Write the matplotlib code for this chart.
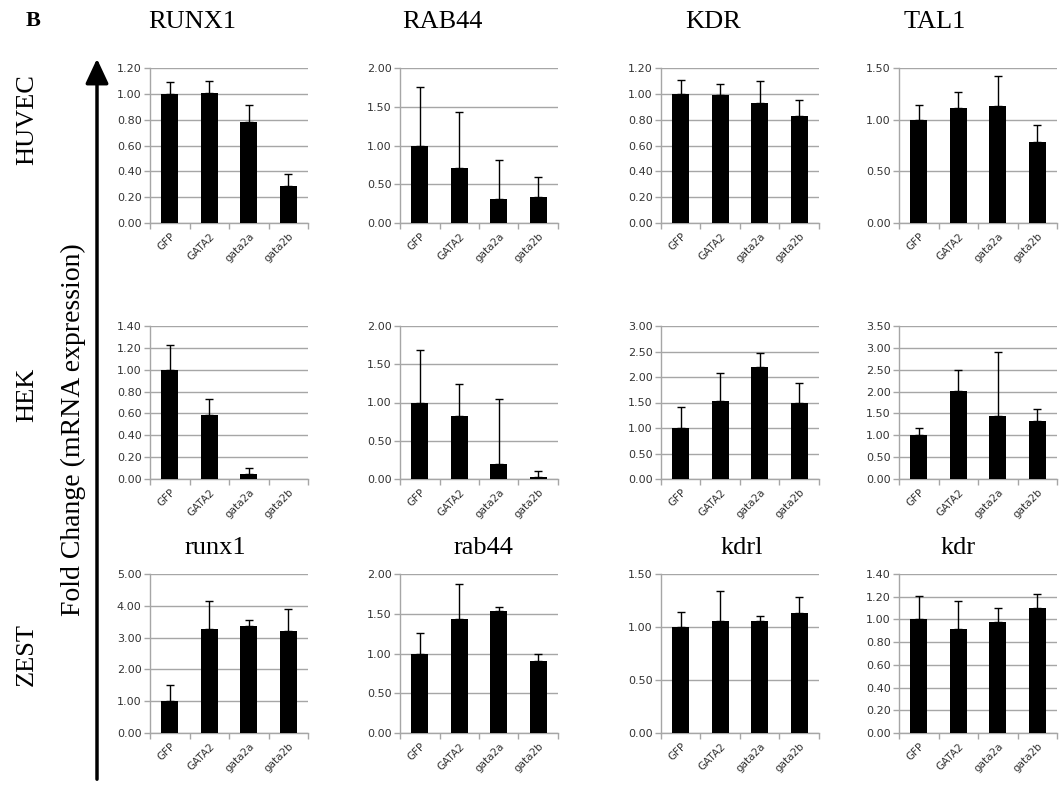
import matplotlib.pyplot as plt
import numpy as np

groups = ["GFP", "GATA2", "gata2a", "gata2b"]
rows = ["HUVEC", "HEK", "ZEST"]

# panel titles (middle row has none in the figure)
titles_top = ["RUNX1", "RAB44", "KDR", "TAL1"]
titles_bottom = ["runx1", "rab44", "kdrl", "kdr"]

# mean fold change per panel, row by row
huvec_runx1 = [1.00, 1.01, 0.78, 0.29]
huvec_rab44 = [1.00, 0.71, 0.31, 0.34]
huvec_kdr = [1.00, 0.99, 0.93, 0.83]
huvec_tal1 = [1.00, 1.11, 1.13, 0.78]
hek_runx1 = [1.00, 0.59, 0.05, 0.00]
hek_rab44 = [1.00, 0.82, 0.20, 0.03]
hek_kdr = [1.00, 1.52, 2.19, 1.50]
hek_tal1 = [1.00, 2.01, 1.43, 1.32]
zest_runx1 = [1.00, 3.28, 3.35, 3.20]
zest_rab44 = [1.00, 1.44, 1.53, 0.91]
zest_kdrl = [1.00, 1.06, 1.06, 1.13]
zest_kdr = [1.00, 0.92, 0.98, 1.10]

# upper error bar (sd)
huvec_runx1_err = [0.09, 0.09, 0.13, 0.09]
huvec_rab44_err = [0.76, 0.72, 0.50, 0.26]
huvec_kdr_err = [0.11, 0.09, 0.17, 0.12]
huvec_tal1_err = [0.14, 0.16, 0.29, 0.17]
hek_runx1_err = [0.23, 0.14, 0.05, 0.00]
hek_rab44_err = [0.68, 0.42, 0.84, 0.08]
hek_kdr_err = [0.42, 0.56, 0.29, 0.38]
hek_tal1_err = [0.17, 0.48, 1.48, 0.28]
zest_runx1_err = [0.50, 0.88, 0.21, 0.70]
zest_rab44_err = [0.26, 0.43, 0.05, 0.09]
zest_kdrl_err = [0.14, 0.28, 0.04, 0.15]
zest_kdr_err = [0.21, 0.24, 0.12, 0.12]

# y axis max / step per panel
ymax = [[1.2, 2.0, 1.2, 1.5], [1.4, 2.0, 3.0, 3.5], [5.0, 2.0, 1.5, 1.4]]
ystep = [[0.2, 0.5, 0.2, 0.5], [0.2, 0.5, 0.5, 0.5], [1.0, 0.5, 0.5, 0.2]]

values = [[huvec_runx1, huvec_rab44, huvec_kdr, huvec_tal1],
          [hek_runx1, hek_rab44, hek_kdr, hek_tal1],
          [zest_runx1, zest_rab44, zest_kdrl, zest_kdr]]
errors = [[huvec_runx1_err, huvec_rab44_err, huvec_kdr_err, huvec_tal1_err],
          [hek_runx1_err, hek_rab44_err, hek_kdr_err, hek_tal1_err],
          [zest_runx1_err, zest_rab44_err, zest_kdrl_err, zest_kdr_err]]

W, H = 1062, 790
fig = plt.figure(figsize=(W / 100, H / 100), dpi=100)

# pixel boxes of plot areas
col_left = [150, 400, 661, 899]
col_w = 158
row_top = [68, 326, 574]
row_bot = [223, 479, 733]

grid_c = "#a6a6a6"
txt_c = "#333333"
x = np.arange(4)

for r in range(3):
    for c in range(4):
        left = col_left[c] / W
        bottom = 1 - row_bot[r] / H
        ax = fig.add_axes([left, bottom, col_w / W, (row_bot[r] - row_top[r]) / H])
        v = np.array(values[r][c])
        e = np.array(errors[r][c])
        ax.bar(x, v, width=0.42, color="black", zorder=3)
        show = e > 0
        ax.errorbar(x[show], v[show], yerr=[np.zeros(show.sum()), e[show]],
                    fmt="none", ecolor="black", elinewidth=1, capsize=3,
                    capthick=1, zorder=4)
        ax.set_xlim(-0.5, 3.5)
        ax.set_ylim(0, ymax[r][c])
        ticks = np.arange(0, ymax[r][c] + 1e-9, ystep[r][c])
        ax.set_yticks(ticks)
        ax.set_yticklabels([f"{t:.2f}" for t in ticks], fontsize=8, color=txt_c)
        ax.yaxis.grid(True, color=grid_c, linewidth=1, zorder=0)
        ax.set_axisbelow(True)
        ax.set_xticks(x)
        ax.set_xticklabels(groups, rotation=45, ha="right", rotation_mode="anchor",
                           fontsize=7.5, color=txt_c)
        ax.set_xticks(np.arange(-0.5, 4, 1), minor=True)
        ax.tick_params(axis="x", which="major", length=0, pad=6)
        ax.tick_params(axis="x", which="minor", length=4, color=grid_c, width=1)
        ax.tick_params(axis="y", length=4, color=grid_c, width=1, pad=2)
        for s in ["top", "right"]:
            ax.spines[s].set_visible(False)
        for s in ["left", "bottom"]:
            ax.spines[s].set_color(grid_c)
            ax.spines[s].set_linewidth(1)

serif = "Liberation Serif"
top_x = [192, 442, 713, 935]
bot_x = [215, 483, 742, 958]
for c in range(4):
    fig.text(top_x[c] / W, 1 - 22 / H, titles_top[c], ha="center", va="center",
             fontsize=19, family=serif)
    fig.text(bot_x[c] / W, 1 - 548 / H, titles_bottom[c], ha="center", va="center",
             fontsize=19, family=serif)

row_y = [120, 395, 655]
for r in range(3):
    fig.text(27 / W, 1 - row_y[r] / H, rows[r], rotation=90, ha="center",
             va="center", fontsize=19, family=serif)

fig.text(33 / W, 1 - 21 / H, "B", ha="center", va="center", fontsize=16,
         family=serif, fontweight="bold")

fig.text(73 / W, 1 - 430 / H, "Fold Change (mRNA expression)", rotation=90,
         ha="center", va="center", fontsize=20, family=serif)

fig.patches.append(plt.matplotlib.patches.FancyArrowPatch(
    (97 / W, 1 - 782 / H), (97 / W, 1 - 56 / H), transform=fig.transFigure,
    arrowstyle="-|>,head_length=15,head_width=7", linewidth=2.5, color="black",
    mutation_scale=1))

fig.savefig("out.png", dpi=100)
